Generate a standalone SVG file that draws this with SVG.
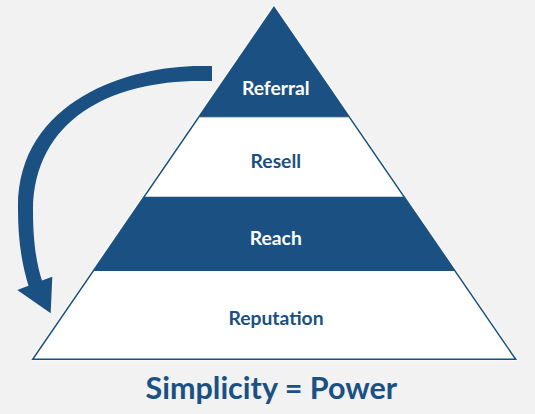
<svg xmlns="http://www.w3.org/2000/svg" width="535" height="414" viewBox="0 0 535 414">
<style>
.lbl{font-family:Lato,"Noto Sans",sans-serif;font-weight:bold;font-size:19.3px;text-anchor:middle}
.lt{fill:#ffffff}
.dk{fill:#1a5182}
.blue{fill:#1a5182}
.white{fill:#ffffff}
</style>
<rect width="535" height="414" fill="#f2f2f2"/>
<polygon points="274,7.3 515.7,359.3 32.7,359.3" fill="none" stroke="#fafafa" stroke-width="4" stroke-linejoin="round"/>
<g id="referral">
<polygon class="blue" points="274,7.3 349.5,117.3 198.6,117.3"/>
<text class="lbl lt" x="275.8" y="95">Referral</text>
</g>
<g id="resell">
<polygon class="white" points="198.6,117.3 349.5,117.3 404,196.7 144.2,196.7"/>
<text class="lbl dk" x="275.8" y="167.7">Resell</text>
</g>
<g id="reach">
<polygon class="blue" points="144.2,196.7 404,196.7 455,271 93.2,271"/>
<text class="lbl lt" x="275.8" y="245">Reach</text>
</g>
<g id="reputation">
<polygon class="white" points="93.2,271 455,271 515.7,359.3 32.7,359.3"/>
<text class="lbl dk" x="276" y="325">Reputation</text>
</g>
<polygon points="274,7.3 515.7,359.3 32.7,359.3" fill="none" stroke="#1a5182" stroke-width="1.5" stroke-linejoin="miter"/>
<line x1="199" y1="117.3" x2="349" y2="117.3" stroke="#c9a3ad" stroke-width="0.8"/>
<g id="connectors">
<path class="blue" d="M 212,66 L 200,66 C 130,66 16,100 18,210 C 18,240 22,265 28.5,285.7 L 17.3,290 L 50.7,313.3 L 52.3,276.7 L 42,280.6 C 36,262 33,240 33,210 C 34,120 110,81 200,81 L 212,81 Z"/>
</g>
<g id="title">
<text x="271.3" y="399.3" font-family="Lato,'Noto Sans',sans-serif" font-weight="bold" font-size="30.5" text-anchor="middle" fill="#1a5182">Simplicity = Power</text>
</g>
</svg>
